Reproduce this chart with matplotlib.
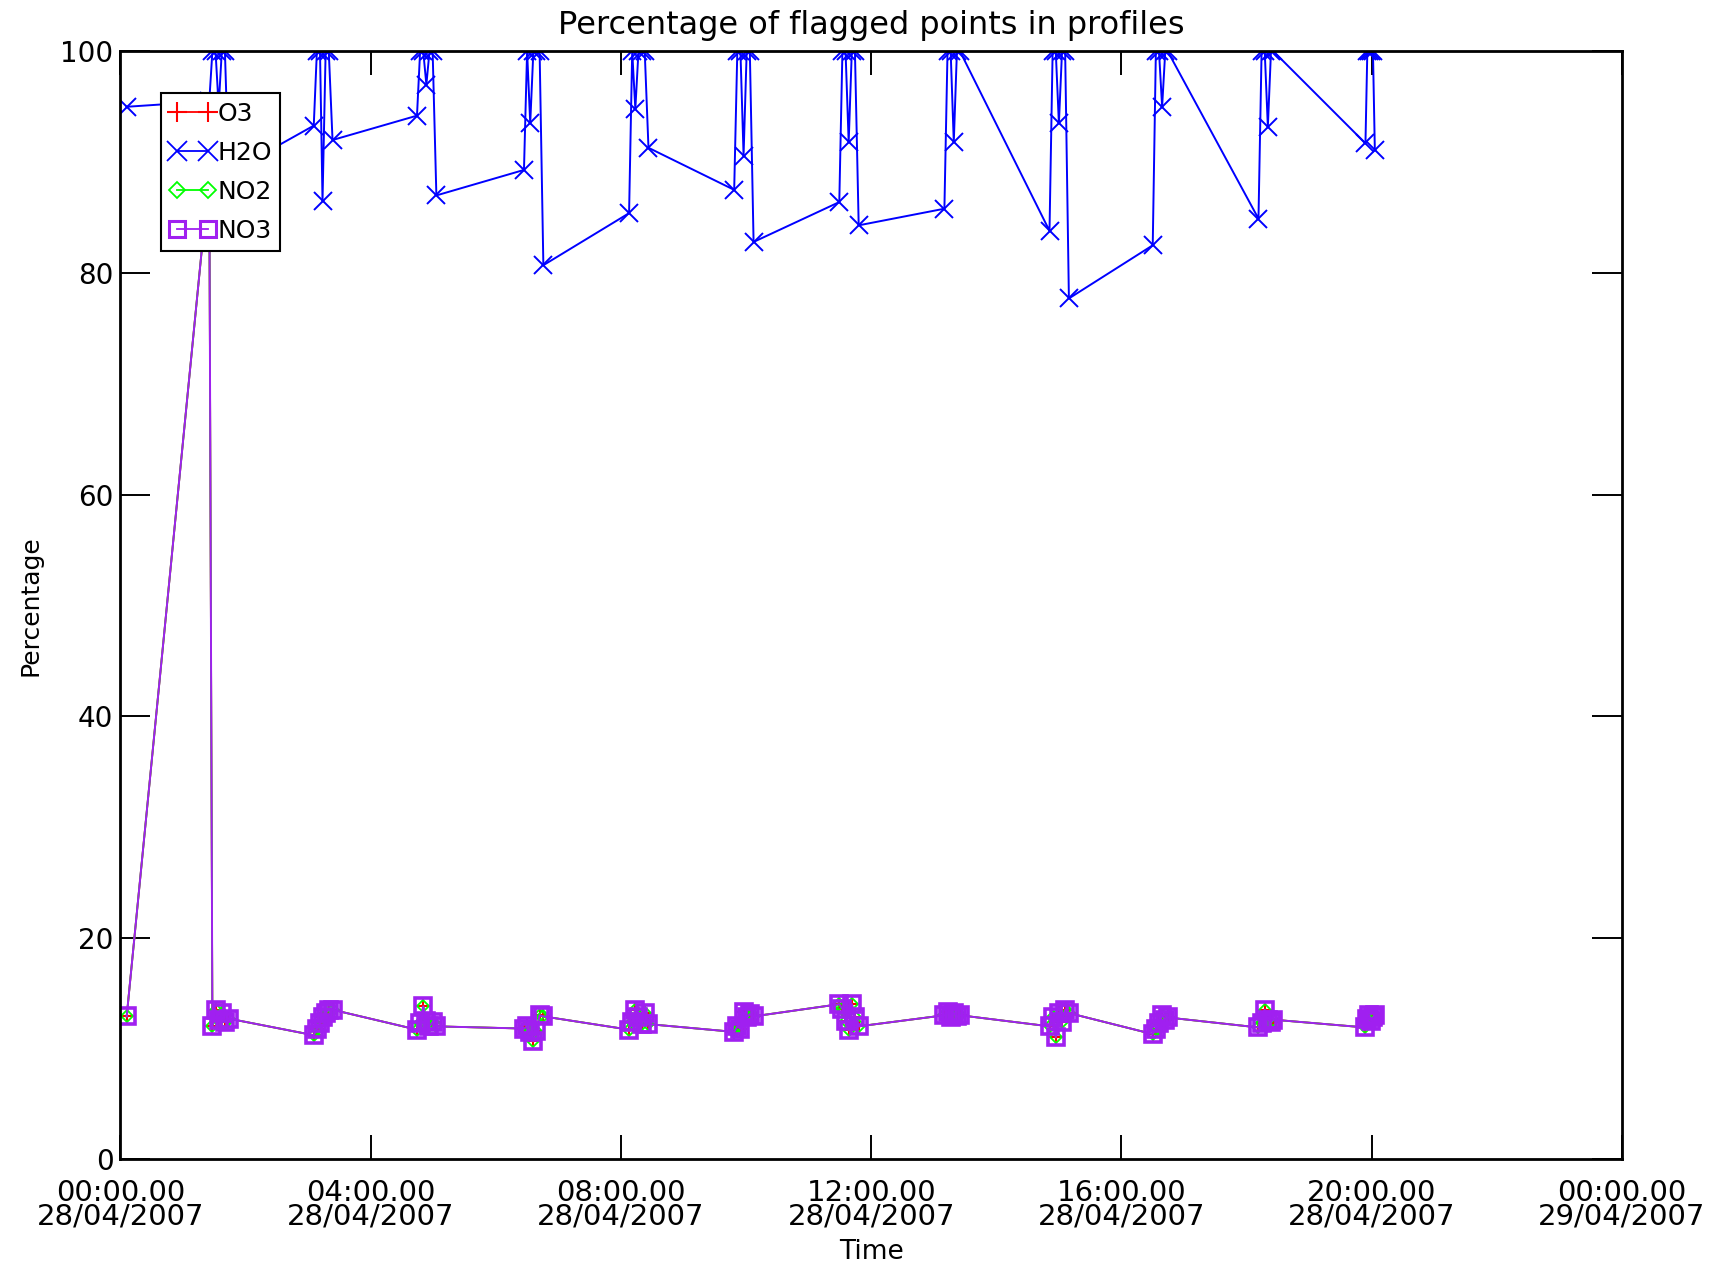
import datetime as dt
import matplotlib
matplotlib.use("Agg")
import matplotlib.pyplot as plt
import matplotlib.dates as mdates
from matplotlib.lines import Line2D

# profile times, hours after 28/04/2007 00:00
hours = [
    0.10,
    1.42, 1.47, 1.52, 1.57, 1.62, 1.67, 1.73,
    3.09, 3.14, 3.19, 3.23, 3.28, 3.33, 3.39,
    4.74, 4.79, 4.84, 4.89, 4.94, 4.99, 5.05,
    6.45, 6.50, 6.55, 6.60, 6.65, 6.70, 6.76,
    8.13, 8.18, 8.23, 8.28, 8.33, 8.38, 8.44,
    9.81, 9.86, 9.91, 9.96, 10.01, 10.06, 10.12,
    11.49, 11.54, 11.59, 11.64, 11.69, 11.74, 11.80,
    13.17, 13.22, 13.27, 13.32, 13.37, 13.42,
    14.85, 14.90, 14.95, 15.00, 15.05, 15.10, 15.16,
    16.50, 16.55, 16.60, 16.65, 16.70, 16.74,
    18.19, 18.24, 18.29, 18.34, 18.39, 18.43,
    19.90, 19.93, 19.96, 19.99, 20.02, 20.05,
]

h2o = [
    95.0,
    95.5, 100, 100, 95.0, 100, 100, 89.0,
    93.3, 100, 100, 86.5, 100, 100, 92.0,
    94.2, 100, 100, 97.0, 100, 100, 87.0,
    89.3, 100, 93.5, 100, 100, 100, 80.7,
    85.4, 100, 94.8, 100, 100, 100, 91.3,
    87.5, 100, 100, 90.6, 100, 100, 82.8,
    86.4, 100, 100, 91.8, 100, 100, 84.3,
    85.8, 100, 100, 91.8, 100, 100,
    83.8, 100, 100, 93.5, 100, 100, 77.7,
    82.5, 100, 100, 95.0, 100, 100,
    84.9, 100, 100, 93.2, 100, 100,
    91.7, 100, 100, 100, 100, 91.1,
]

no3 = [
    12.9,
    89.0, 12.0, 13.5, 12.6, 13.2, 12.4, 12.7,
    11.2, 11.8, 12.3, 12.8, 13.2, 13.5, 13.5,
    11.7, 12.3, 13.8, 12.5, 12.0, 12.4, 12.0,
    11.8, 12.0, 11.5, 10.7, 11.6, 13.0, 12.9,
    11.7, 12.4, 13.5, 12.8, 12.2, 13.2, 12.2,
    11.5, 12.0, 11.8, 13.3, 12.8, 13.1, 12.9,
    14.0, 13.6, 12.5, 11.7, 14.0, 12.8, 12.0,
    13.0, 13.3, 12.8, 13.2, 12.9, 13.0,
    12.0, 12.8, 11.0, 13.2, 12.4, 13.5, 13.2,
    11.3, 11.8, 12.3, 13.0, 12.6, 12.8,
    11.9, 12.3, 13.5, 12.6, 12.4, 12.6,
    11.9, 12.7, 13.0, 12.5, 12.8, 13.0,
]
# O3 and NO2 sit under the NO3 squares
o3 = list(no3)
no2 = list(no3)

day = dt.datetime(2007, 4, 28)
times = [day + dt.timedelta(hours=h) for h in hours]

RED, BLUE, GREEN, PURPLE = "#ff0000", "#0000ff", "#00ff00", "#a020f0"

fig = plt.figure(figsize=(17.18, 12.72), dpi=100, facecolor="white")
ax = fig.add_axes([0.0701, 0.0886, 0.874, 0.871])

ax.plot(times, o3, color=RED, lw=1.3, marker="+", ms=10, mew=1.5)
ax.plot(times, h2o, color=BLUE, lw=1.4, marker="x", ms=13, mew=1.4)
ax.plot(times, no2, color=GREEN, lw=1.3, marker="D", ms=6, mfc="none", mew=1.3)
ax.plot(times, no3, color=PURPLE, lw=1.4, marker="s", ms=11, mfc="none", mew=2.6)

ax.set_xlim(day, day + dt.timedelta(days=1))
ax.set_ylim(0, 100)
ax.xaxis.set_major_locator(mdates.HourLocator(byhour=range(0, 24, 4)))
ax.xaxis.set_major_formatter(mdates.DateFormatter("%H:%M.%S\n%d/%m/%Y"))
ax.set_yticks([0, 20, 40, 60, 80, 100])

for lab in ax.get_xticklabels():
    lab.set_linespacing(0.82)
ax.tick_params(axis="x", direction="in", length=17, width=1.4, top=True,
               labelsize=21, pad=14)
ax.tick_params(axis="y", direction="in", length=21.5, width=1.4, right=True,
               labelsize=20, pad=5)
for sp in ax.spines.values():
    sp.set_linewidth(2)

fig.text(0.507, 0.9796, "Percentage of flagged points in profiles",
         ha="center", va="center", fontsize=23)
fig.text(0.018, 0.524, "Percentage", rotation=90, ha="center", va="center",
         fontsize=18)
fig.text(0.507, 0.0155, "Time", ha="center", va="center", fontsize=19)

handles = [
    Line2D([], [], color=RED, lw=1.3, marker="+", ms=14, mew=1.5),
    Line2D([], [], color=BLUE, lw=1.3, marker="x", ms=14, mew=1.3),
    Line2D([], [], color=GREEN, lw=1.3, marker="D", ms=8, mfc="none", mew=1.3),
    Line2D([], [], color=PURPLE, lw=1.3, marker="s", ms=11, mfc="none", mew=2.2),
]
leg = fig.legend(handles, ["O3", "H2O", "NO2", "NO3"], loc="upper left",
                 bbox_to_anchor=(0.0937, 0.9269), fontsize=18, numpoints=2,
                 fancybox=False, framealpha=1, edgecolor="black",
                 borderpad=0.35, labelspacing=0.6, handlelength=1.85,
                 handletextpad=0.05, borderaxespad=0)
leg.get_frame().set_linewidth(1.5)

fig.savefig("out.png", dpi=100, facecolor="white")
